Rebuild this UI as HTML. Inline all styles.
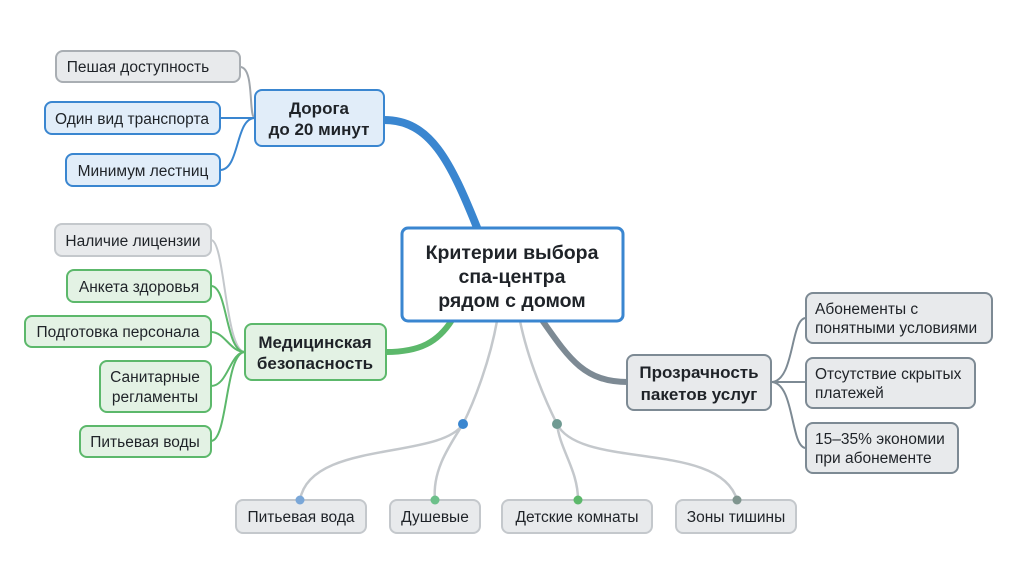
<!DOCTYPE html>
<html><head><meta charset="utf-8"><style>
html,body{margin:0;padding:0;background:#fff;}
svg{display:block;}
text{font-family:"Liberation Sans",sans-serif;fill:#1f2328;}
.b{font-weight:bold;font-size:17px;fill:#15202b;}
.n{font-size:15.5px;}
</style></head><body>
<svg width="1024" height="572" viewBox="0 0 1024 572" xmlns="http://www.w3.org/2000/svg">
<rect width="1024" height="572" fill="#fff"/>
<path d="M384,120 C430,120 450,160 478,230" stroke="#3a86d0" stroke-width="8" fill="none"/>
<path d="M386,352 C420,352 438,342 452,320" stroke="#5cb86b" stroke-width="6" fill="none"/>
<path d="M542,320 C570,360 585,382 628,382" stroke="#7d8a94" stroke-width="6" fill="none"/>
<path d="M240,67 C255,67 248,118 255,118" stroke="#a0a6ac" stroke-width="2" fill="none"/>
<path d="M220,118 L255,118" stroke="#3a86d0" stroke-width="2" fill="none"/>
<path d="M220,170 C240,170 235,118 255,118" stroke="#3a86d0" stroke-width="2" fill="none"/>
<path d="M211,240 C225,240 225,352 245,352" stroke="#c4c8cc" stroke-width="2" fill="none"/>
<path d="M211,286 C228,286 225,352 245,352" stroke="#5cb86b" stroke-width="2" fill="none"/>
<path d="M211,332 C225,332 230,352 245,352" stroke="#5cb86b" stroke-width="2" fill="none"/>
<path d="M211,386 C228,386 230,352 245,352" stroke="#5cb86b" stroke-width="2" fill="none"/>
<path d="M211,441 C228,441 225,352 245,352" stroke="#5cb86b" stroke-width="2" fill="none"/>
<path d="M771,382 C795,382 790,318 806,318" stroke="#7d8a94" stroke-width="2" fill="none"/>
<path d="M771,382 L806,382" stroke="#7d8a94" stroke-width="2" fill="none"/>
<path d="M771,382 C795,382 790,448 806,448" stroke="#7d8a94" stroke-width="2" fill="none"/>
<path d="M497,321 C490,360 475,400 463,424" stroke="#c4c8cc" stroke-width="2.5" fill="none"/>
<path d="M520,321 C528,360 545,400 557,424" stroke="#c4c8cc" stroke-width="2.5" fill="none"/>
<path d="M463,424 C440,460 310,440 300,500" stroke="#c4c8cc" stroke-width="2.5" fill="none"/>
<path d="M463,424 C450,445 432,470 435,500" stroke="#c4c8cc" stroke-width="2.5" fill="none"/>
<path d="M557,424 C560,450 578,470 578,500" stroke="#c4c8cc" stroke-width="2.5" fill="none"/>
<path d="M557,424 C580,470 720,440 737,500" stroke="#c4c8cc" stroke-width="2.5" fill="none"/>
<circle cx="463" cy="424" r="5" fill="#3a86d0"/>
<circle cx="557" cy="424" r="5" fill="#6f9a92"/>
<g stroke-width="2">
<rect x="56" y="51" width="184" height="31" rx="7" fill="#e8eaec" stroke="#a9aeb3"/>
<rect x="45" y="102" width="175" height="32" rx="7" fill="#e1edf9" stroke="#3a86d0"/>
<rect x="66" y="154" width="154" height="32" rx="7" fill="#e1edf9" stroke="#3a86d0"/>
<rect x="255" y="90" width="129" height="56" rx="7" fill="#e1edf9" stroke="#3a86d0"/>
<rect x="55" y="224" width="156" height="32" rx="7" fill="#e8eaec" stroke="#c4c8cc"/>
<rect x="67" y="270" width="144" height="32" rx="7" fill="#e3f2e4" stroke="#5cb86b"/>
<rect x="25" y="316" width="186" height="31" rx="7" fill="#e3f2e4" stroke="#5cb86b"/>
<rect x="100" y="361" width="111" height="51" rx="7" fill="#e3f2e4" stroke="#5cb86b"/>
<rect x="80" y="426" width="131" height="31" rx="7" fill="#e3f2e4" stroke="#5cb86b"/>
<rect x="245" y="324" width="141" height="56" rx="7" fill="#e3f2e4" stroke="#5cb86b"/>
<rect x="627" y="355" width="144" height="55" rx="7" fill="#e8eaec" stroke="#7d8a94"/>
<rect x="806" y="293" width="186" height="50" rx="7" fill="#e8eaec" stroke="#7d8a94"/>
<rect x="806" y="358" width="169" height="50" rx="7" fill="#e8eaec" stroke="#7d8a94"/>
<rect x="806" y="423" width="152" height="50" rx="7" fill="#e8eaec" stroke="#7d8a94"/>
<rect x="236" y="500" width="130" height="33" rx="7" fill="#e8eaec" stroke="#c4c8cc"/>
<rect x="390" y="500" width="90" height="33" rx="7" fill="#e8eaec" stroke="#c4c8cc"/>
<rect x="502" y="500" width="150" height="33" rx="7" fill="#e8eaec" stroke="#c4c8cc"/>
<rect x="676" y="500" width="120" height="33" rx="7" fill="#e8eaec" stroke="#c4c8cc"/>
</g>
<rect x="402" y="228" width="221" height="93" rx="6" fill="#fff" stroke="#3a86d0" stroke-width="3"/>
<circle cx="300" cy="500" r="4.5" fill="#7aa7d8"/>
<circle cx="435" cy="500" r="4.5" fill="#6cc08a"/>
<circle cx="578" cy="500" r="4.5" fill="#5cb86b"/>
<circle cx="737" cy="500" r="4.5" fill="#7f958f"/>
<g class="n" text-anchor="middle">
<text x="138" y="72">Пешая доступность</text>
<text x="132" y="124">Один вид транспорта</text>
<text x="143" y="176">Минимум лестниц</text>
<text x="133" y="246">Наличие лицензии</text>
<text x="139" y="292">Анкета здоровья</text>
<text x="118" y="337">Подготовка персонала</text>
<text x="155" y="382">Санитарные</text>
<text x="155" y="402">регламенты</text>
<text x="145" y="447">Питьевая воды</text>
<text x="301" y="522">Питьевая вода</text>
<text x="435" y="522">Душевые</text>
<text x="577" y="522">Детские комнаты</text>
<text x="736" y="522">Зоны тишины</text>
</g>
<g class="n">
<text x="815" y="314">Абонементы с</text>
<text x="815" y="333">понятными условиями</text>
<text x="815" y="379">Отсутствие скрытых</text>
<text x="815" y="398">платежей</text>
<text x="815" y="444">15–35% экономии</text>
<text x="815" y="463">при абонементе</text>
</g>
<g class="b" text-anchor="middle">
<text x="319" y="114">Дорога</text>
<text x="319" y="135">до 20 минут</text>
<text x="315" y="348">Медицинская</text>
<text x="315" y="369">безопасность</text>
<text x="699" y="378">Прозрачность</text>
<text x="699" y="400">пакетов услуг</text>
<text x="512" y="259" style="font-size:19.5px">Критерии выбора</text>
<text x="512" y="283" style="font-size:19.5px">спа-центра</text>
<text x="512" y="307" style="font-size:19.5px">рядом с домом</text>
</g>
</svg>
</body></html>
